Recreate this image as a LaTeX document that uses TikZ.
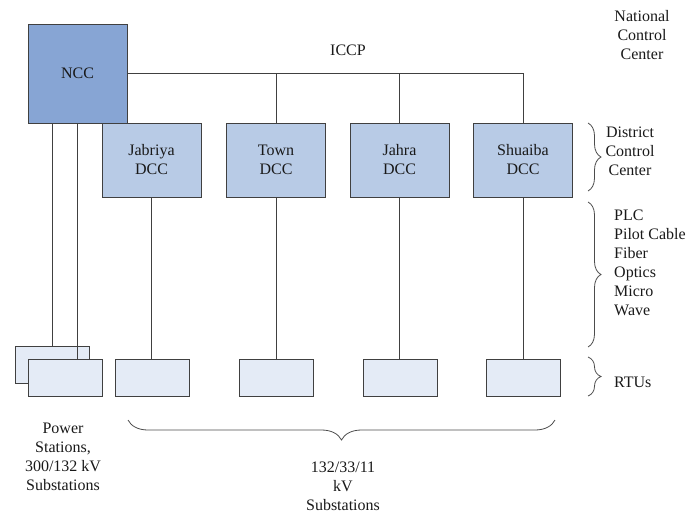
\documentclass[tikz,border=0pt]{standalone}
\usepackage{fontspec}
\setmainfont{Liberation Serif}
\usetikzlibrary{decorations.pathreplacing}
\definecolor{nccfill}{HTML}{87A5D4}
\definecolor{dccfill}{HTML}{B8CBE6}
\definecolor{rtufill}{HTML}{E4EBF6}
\definecolor{edge}{HTML}{404040}
\begin{document}
\begin{tikzpicture}[x=1pt,y=-1pt,
  txt/.style={font=\fontsize{16}{19}\selectfont, text=black!90, align=center, inner sep=0pt},
  box/.style={draw=edge, line width=0.9pt, inner sep=0pt, font=\fontsize{16}{19}\selectfont, text=black!90, align=center},
  nccbox/.style={box, fill=nccfill, minimum width=99pt, minimum height=99pt},
  dccbox/.style={box, fill=dccfill, minimum width=99pt, minimum height=74pt},
  rtubox/.style={box, fill=rtufill, minimum width=74pt, minimum height=37pt},
  link/.style={draw=edge, line width=0.9pt},
  bracestyle/.style={draw=black!70, line width=0.8pt, decorate, decoration={brace, amplitude=#1}}
]
\useasboundingbox (0,0) rectangle (699,517);

\node[nccbox] (ncc) at (77.5,73.5) {NCC};
\node[dccbox] (jab) at (151.5,160) {Jabriya\\DCC};
\node[dccbox] (town) at (276,160) {Town\\DCC};
\node[dccbox] (jahra) at (399.5,160) {Jahra\\DCC};
\node[dccbox] (shu) at (523,160) {Shuaiba\\DCC};

\node[rtubox] (ps2) at (52.5,364.5) {};
\node[rtubox] (ps1) at (65,377.5) {};
\node[rtubox] (r1) at (152,377.5) {};
\node[rtubox] (r2) at (276,377.5) {};
\node[rtubox] (r3) at (400,377.5) {};
\node[rtubox] (r4) at (523,377.5) {};

% ICCP bus
\draw[link] (ncc.east) -| (shu.north);
\draw[link] (town.north) -- (town.north |- ncc.east);
\draw[link] (jahra.north) -- (jahra.north |- ncc.east);

% NCC to power stations
\draw[link] (ps2.north |- ncc.south) -- (ps2.north);
\draw[link] (ncc.south) -- (ncc.south |- ps1.north);

% DCC to RTUs
\draw[link] (jab.south) -- (jab.south |- r1.north);
\draw[link] (town.south) -- (town.south |- r2.north);
\draw[link] (jahra.south) -- (jahra.south |- r3.north);
\draw[link] (shu.south) -- (shu.south |- r4.north);

% labels
\node[txt] (iccp) at (348,50) {ICCP};
\node[txt] (natl) at (642,35) {National\\Control\\Center};

% right braces
\coordinate (b1t) at (588,123);
\coordinate (b1b) at (588,191);
\coordinate (b2t) at (588,202);
\coordinate (b2b) at (588,347);
\coordinate (b3t) at (588,357);
\coordinate (b3b) at (588,396);
\draw[bracestyle=13pt] (b1t) -- (b1b);
\draw[bracestyle=13pt] (b2t) -- (b2b);
\draw[bracestyle=13pt] (b3t) -- (b3b);

\node[txt] (dist) at (630,151) {District\\Control\\Center};
\node[txt, align=left, anchor=west] (media) at (614,263) {PLC\\Pilot Cable\\Fiber\\Optics\\Micro\\Wave};
\node[txt, anchor=west] (rtus) at (614,382) {RTUs};

% bottom brace
\coordinate (bbl) at (128,420);
\coordinate (bbr) at (555,420);
\draw[bracestyle=20pt] (bbr) -- (bbl);

\node[txt] (subs) at (343,486) {132/33/11\\kV\\Substations};
\node[txt] (pwr) at (63,457) {Power\\Stations,\\300/132 kV\\Substations};
\end{tikzpicture}
\end{document}
